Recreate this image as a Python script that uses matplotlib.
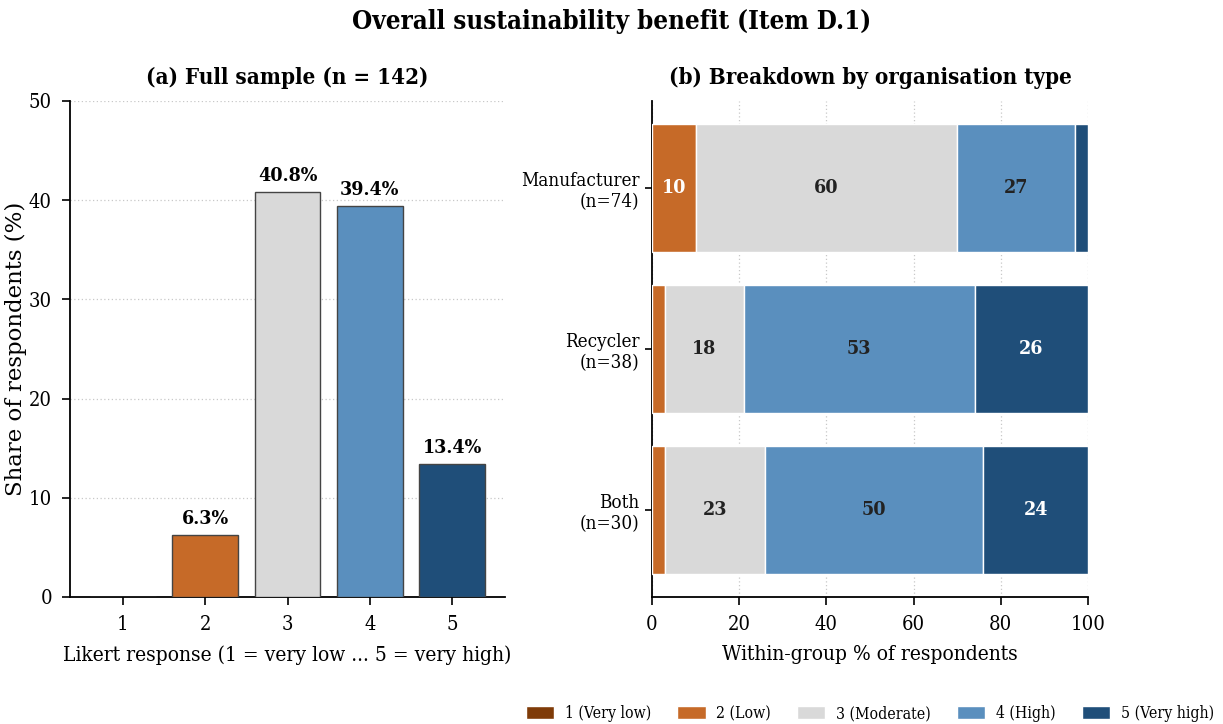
import matplotlib
matplotlib.use("Agg")
import matplotlib.pyplot as plt
import numpy as np
from matplotlib.patches import Patch

plt.rcParams["font.family"] = ["DejaVu Serif"]
plt.rcParams["font.stretch"] = "condensed"

# Likert levels and legend labels
levels = [1, 2, 3, 4, 5]
level_names = ["1 (Very low)", "2 (Low)", "3 (Moderate)", "4 (High)", "5 (Very high)"]
level_colors = ["#7f3b08", "#c66a28", "#d9d9d9", "#5a8fbe", "#1f4e79"]

# (a) full sample shares, %
full_share = [0.0, 6.3, 40.8, 39.4, 13.4]

# (b) within-group shares by organisation type, %
groups = ["Manufacturer\n(n=74)", "Recycler\n(n=38)", "Both\n(n=30)"]
group_shares = {
    1: [0, 0, 0],
    2: [10, 3, 3],
    3: [60, 18, 23],
    4: [27, 53, 50],
    5: [3, 26, 24],
}

label_colors = ["white", "white", "#222222", "#222222", "white"]

fig = plt.figure(figsize=(12.23, 7.24), dpi=100)
ax1 = fig.add_axes([70 / 1223, 1 - 597 / 724, 435 / 1223, 496 / 724])
ax2 = fig.add_axes([652 / 1223, 1 - 597 / 724, 436 / 1223, 496 / 724])

fig.suptitle("Overall sustainability benefit (Item D.1)", y=0.987,
             fontsize=18.5, fontweight="bold")

# left: distribution over the whole sample
bars = ax1.bar(levels, full_share, width=0.8, color=level_colors,
               edgecolor="#444444", linewidth=1.0, zorder=3)
for b, v in zip(bars, full_share):
    if v > 0:
        ax1.text(b.get_x() + b.get_width() / 2, v + 0.7, f"{v:.1f}%",
                 ha="center", va="bottom", fontsize=14, fontweight="bold")
ax1.set_ylim(0, 50)
ax1.set_xticks(levels)
ax1.set_title("(a) Full sample (n = 142)", fontsize=16, fontweight="bold", pad=12)
ax1.set_xlabel("Likert response (1 = very low ... 5 = very high)", fontsize=15,
               labelpad=8)
ax1.set_ylabel("Share of respondents (%)", fontsize=16.5, fontstretch="normal",
               labelpad=1)
ax1.grid(axis="y", linestyle=(0, (1, 2)), color="#c8c8c8", linewidth=0.9, zorder=0)

# right: stacked horizontal bars per group
y = np.arange(len(groups))
left = np.zeros(len(groups))
for i, lv in enumerate(levels):
    vals = np.array(group_shares[lv], dtype=float)
    ax2.barh(y, vals, left=left, height=0.8, color=level_colors[i],
             edgecolor="white", linewidth=1.0, zorder=3)
    for yy, l0, v in zip(y, left, vals):
        if v >= 5:
            ax2.text(l0 + v / 2, yy, f"{v:.0f}", ha="center", va="center",
                     fontsize=14, fontweight="bold", color=label_colors[i], zorder=4)
    left += vals
ax2.set_yticks(y)
ax2.set_yticklabels(groups)
ax2.invert_yaxis()
ax2.set_xlim(0, 100)
ax2.set_title("(b) Breakdown by organisation type", fontsize=16,
              fontweight="bold", pad=12)
ax2.set_xlabel("Within-group % of respondents", fontsize=15, labelpad=8)
ax2.grid(axis="x", linestyle=(0, (1, 2)), color="#c8c8c8", linewidth=0.9, zorder=0)

for ax in (ax1, ax2):
    ax.spines["top"].set_visible(False)
    ax.spines["right"].set_visible(False)
    ax.spines["left"].set_linewidth(1.3)
    ax.spines["bottom"].set_linewidth(1.3)
    ax.tick_params(labelsize=14.5, width=1.2, length=6, pad=7)
    ax.set_axisbelow(True)
ax2.tick_params(axis="y", labelsize=13.5, length=5, pad=4)

handles = [Patch(facecolor=c, edgecolor="white", label=n)
           for c, n in zip(level_colors, level_names)]
ax2.legend(handles=handles, loc="upper center", bbox_to_anchor=(0.5, -0.19),
           ncol=5, frameon=False, fontsize=11.3, handlelength=1.8,
           handleheight=0.9, handletextpad=0.7, columnspacing=1.65)

fig.savefig("out.png", dpi=100)
